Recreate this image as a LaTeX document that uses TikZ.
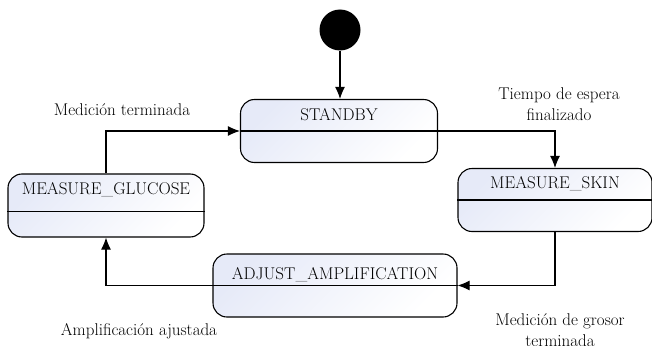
\documentclass[tikz,border=0pt]{standalone}
\usetikzlibrary{arrows.meta}
\definecolor{stfill}{RGB}{230,234,248}
\tikzset{
    state/.style={draw, line width=1.1pt, rounded corners=14pt,
        top color=stfill, bottom color=white, shading angle=45,
        minimum height=63pt, inner sep=0pt},
    conn/.style={->, line width=1.1pt},
    lbl/.style={align=center, font=\fontsize{17}{21}\selectfont}
}

\begin{document}
\begin{tikzpicture}[x=1pt,y=-1pt,>={Latex[length=12pt,width=10pt]}]
        \useasboundingbox (0,0) rectangle (652,345);
        % initial state
        \node[circle, fill=black, minimum size=41pt, inner sep=0pt] (init) at (340,30) {};
        % states
        \node[state, minimum width=197pt] (sb) at (339,131) {};
        \node[state, minimum width=194pt] (sk) at (555,200) {};
        \node[state, minimum width=244pt] (aa) at (335,285.5) {};
        \node[state, minimum width=196pt] (mg) at (106,205.5) {};
        \node[lbl] (sbt) at ([yshift=16pt]sb.center) {STANDBY};
        \node[lbl] (skt) at ([yshift=16pt]sk.center) {MEASURE\_SKIN};
        \node[lbl] (aat) at ([yshift=11pt]aa.center) {ADJUST\_AMPLIFICATION};
        \node[lbl] (mgt) at ([yshift=16pt]mg.center) {MEASURE\_GLUCOSE};
        \foreach \s in {sb,sk,aa}
        {
            \draw[line width=1.1pt] (\s.west)--(\s.east);
        }
        \draw[line width=1.1pt] ([yshift=-6pt]mg.west)--([yshift=-6pt]mg.east);
        % transitions
        \draw[conn] (init.south)--(init.south |- sb.north);
        \draw[conn] (sb.east) -| (sk.north);
        \draw[conn] (sk.south) |- (aa.east);
        \draw[conn] (aa.west) -| (mg.south);
        \draw[conn] (mg.north) |- (sb.west);
        % labels
        \node[lbl] (l1) at (122,110) {Medición terminada};
        \node[lbl] (l2) at (559,104) {Tiempo de espera\\finalizado};
        \node[lbl] (l3) at (139,331) {Amplificación ajustada};
        \node[lbl] (l4) at (560,330) {Medición de grosor\\terminada};
    \end{tikzpicture}
\end{document}
